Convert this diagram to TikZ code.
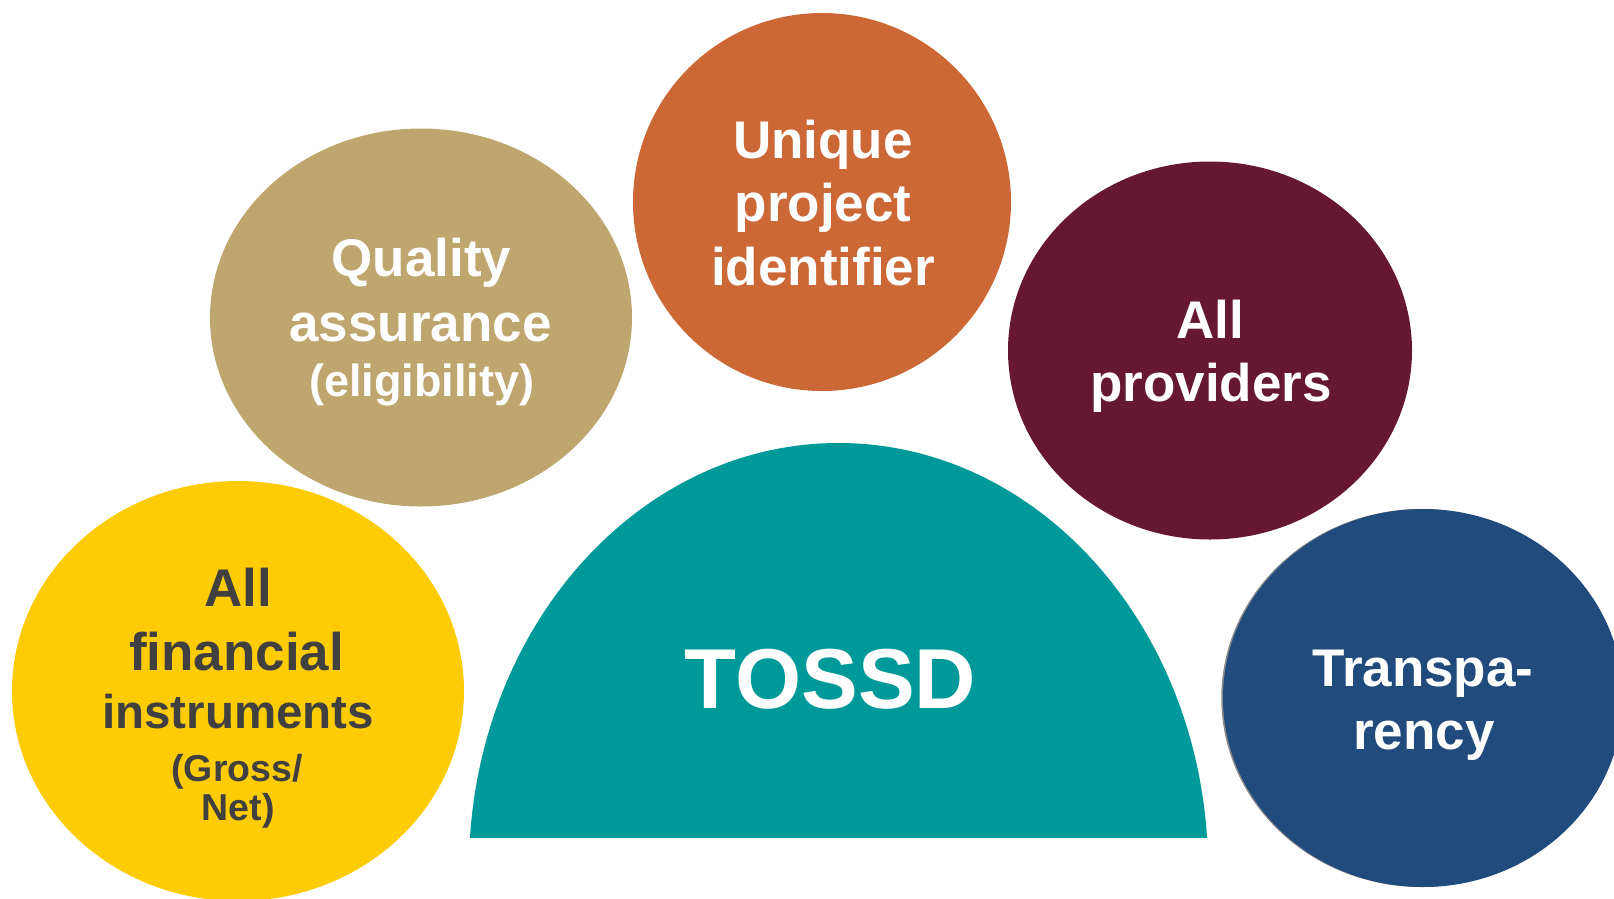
\documentclass[tikz,border=0pt]{standalone}
\usepackage{fontspec}
\setmainfont{Liberation Sans}
\usetikzlibrary{shapes.geometric}
\definecolor{cYellow}{HTML}{FECC05}
\definecolor{cTan}{HTML}{BFA56E}
\definecolor{cOrange}{HTML}{CC6736}
\definecolor{cMaroon}{HTML}{661833}
\definecolor{cTeal}{HTML}{009999}
\definecolor{cBlue}{HTML}{214A7D}
\definecolor{cRim}{HTML}{8A8A8A}
\definecolor{cDark}{HTML}{404040}
\begin{document}
\begin{tikzpicture}[x=1pt,y=-1pt,
  bubble/.style={ellipse, inner sep=0pt, outer sep=0pt, draw=none},
  lbl/.style={anchor=base, inner sep=0pt, outer sep=0pt, text=white, font=\bfseries\fontsize{53}{60}\selectfont},
  darklbl/.style={lbl, text=cDark},
  midlbl/.style={font=\bfseries\fontsize{47.5}{55}\selectfont},
  smalllbl/.style={font=\bfseries\fontsize{37.5}{44}\selectfont},
  paren/.style={font=\bfseries\fontsize{45}{52}\selectfont},
  biglbl/.style={font=\bfseries\fontsize{85}{95}\selectfont}]
\useasboundingbox (0,0) rectangle (1614,898);
\clip (0,0) rectangle (1614,898);

% bubbles
\node[bubble, fill=cYellow, minimum width=452pt, minimum height=420pt] (yellow) at (238,691) {};
\node[bubble, fill=cTan, minimum width=422pt, minimum height=378pt] (tan) at (421,317.5) {};
\node[bubble, fill=cOrange, minimum width=378pt, minimum height=378pt] (orange) at (822,202) {};
\node[bubble, fill=cMaroon, minimum width=404pt, minimum height=378pt] (maroon) at (1210,350.5) {};
\node[bubble, fill=cRim, minimum width=400pt, minimum height=378pt] (bluerim) at (1421.3,698) {};
\node[bubble, fill=cBlue, minimum width=400pt, minimum height=378pt] (blue) at (1423,698) {};

% central dome: an ellipse cut off by its base line
\begin{scope}
  \clip (0,0) rectangle (1614,837);
  \fill[cTeal] (838.5,870) ellipse [x radius=369.6pt, y radius=427pt];
\end{scope}
\node[lbl, biglbl] (tossd) at (830.5,708) {TOSSD};

% yellow texts
\node[darklbl] (fin1) at (238,606) {All};
\node[darklbl] (fin2) at (236.5,670) {financial};
\node[darklbl, midlbl] (fin3) at (238,728.3) {instruments};
\node[darklbl, smalllbl] (fin4) at (237,781.7) {(Gross/};
\node[darklbl, smalllbl] (fin5) at (238.3,820) {Net)};

% tan texts
\node[lbl] (qa1) at (421.5,276.7) {Quality};
\node[lbl] (qa2) at (420.5,341.7) {assurance};
\node[lbl, paren] (qa3) at (421.7,396.7) {(eligibility)};

% orange texts
\node[lbl] (up1) at (823,158.3) {Unique};
\node[lbl] (up2) at (823,221.7) {project};
\node[lbl] (up3) at (823,285.7) {identifier};

% maroon texts
\node[lbl] (ap1) at (1210,338.3) {All};
\node[lbl] (ap2) at (1211,401.7) {providers};

% blue texts
\node[lbl] (tr1) at (1423,686.7) {Transpa-};
\node[lbl] (tr2) at (1424,749.3) {rency};
\end{tikzpicture}
\end{document}
